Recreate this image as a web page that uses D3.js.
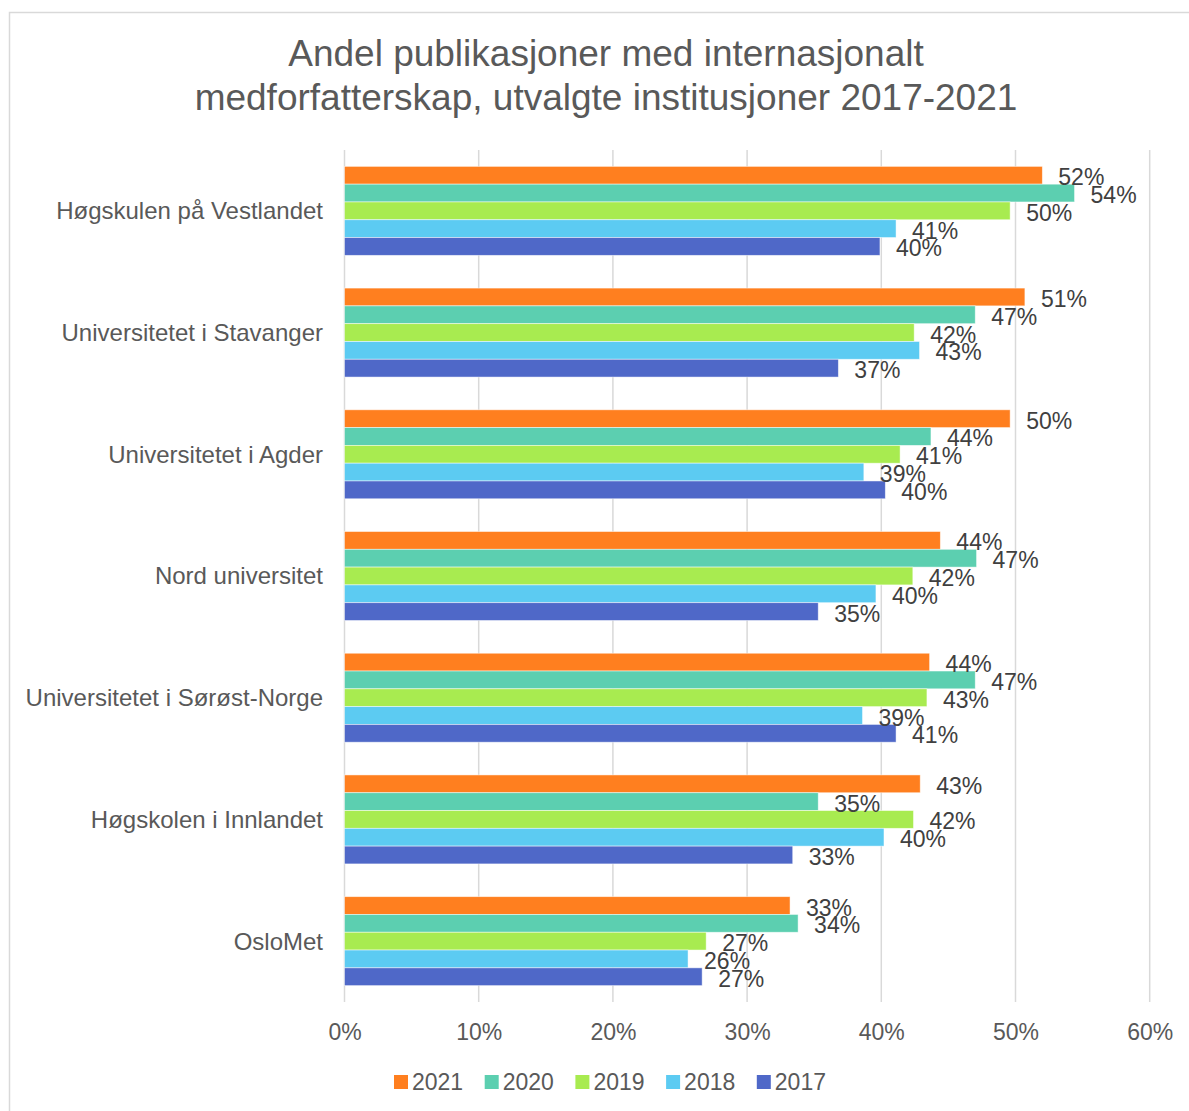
<!DOCTYPE html>
<html>
<head>
<meta charset="utf-8">
<script src="https://cdn.jsdelivr.net/npm/d3@7"></script>
<style>
  html, body { margin: 0; padding: 0; background: #fff; }
  svg { display: block; font-family: "Liberation Sans", Arial, sans-serif; }
</style>
</head>
<body>
<svg id="chart" width="1189" height="1111"></svg>
<script>
const titleLines = ["Andel publikasjoner med internasjonalt", "medforfatterskap, utvalgte institusjoner 2017-2021"];
const categories = ["Høgskulen på Vestlandet", "Universitetet i Stavanger", "Universitetet i Agder", "Nord universitet", "Universitetet i Sørøst-Norge", "Høgskolen i Innlandet", "OsloMet"];
const years = ["2021", "2020", "2019", "2018", "2017"];
const v2021 = [52.0, 50.7, 49.6, 44.4, 43.6, 42.9, 33.2];
const v2020 = [54.4, 47.0, 43.7, 47.1, 47.0, 35.3, 33.8];
const v2019 = [49.6, 42.45, 41.4, 42.35, 43.4, 42.4, 26.95];
const v2018 = [41.1, 42.85, 38.7, 39.6, 38.6, 40.2, 25.6];
const v2017 = [39.9, 36.8, 40.3, 35.3, 41.1, 33.4, 26.65];
const xTicks = [0, 10, 20, 30, 40, 50, 60];
const colors = ["#FF7F1F", "#5CCFB0", "#A8EB50", "#5CCBF2", "#4F68C8"];

const seriesValues = [v2021, v2020, v2019, v2018, v2017];

const svg = d3.select("#chart");

// outer frame
svg.append("rect").attr("x", 9.5).attr("y", 12.5).attr("width", 1185).attr("height", 1110)
  .attr("fill", "none").attr("stroke", "#d9d9d9").attr("stroke-width", 1.5);

// title
svg.append("g").selectAll("text").data(titleLines).join("text")
  .attr("x", 606).attr("y", (d, i) => 66 + i * 44)
  .attr("text-anchor", "middle").attr("font-size", 37).attr("fill", "#595959")
  .text(d => d);

const x = d3.scaleLinear().domain([0, 60]).range([344.5, 1149.7]);
const y0 = d3.scaleBand().domain(categories).range([150, 1002]).padding(0);
const y1 = d3.scaleBand().domain(years).range([0, y0.bandwidth()]).paddingInner(0).paddingOuter(0.92);
const color = d3.scaleOrdinal().domain(years).range(colors);

// gridlines
svg.append("g").selectAll("line").data(xTicks).join("line")
  .attr("x1", d => x(d)).attr("x2", d => x(d))
  .attr("y1", 150).attr("y2", 1002)
  .attr("stroke", "#d9d9d9").attr("stroke-width", 1.5);

// x axis labels
const xAxis = d3.axisBottom(x).tickValues(xTicks).tickFormat(d => d + "%").tickSize(0).tickPadding(0);
const gx = svg.append("g").attr("transform", "translate(0,1002)").call(xAxis);
gx.select(".domain").remove();
gx.selectAll("text").attr("font-size", 23).attr("fill", "#595959")
  .attr("font-family", "Liberation Sans, Arial, sans-serif")
  .attr("dy", null).attr("y", 38);

// y axis labels
const yAxis = d3.axisLeft(y0).tickSize(0).tickPadding(0);
const gy = svg.append("g").attr("transform", "translate(323,0)").call(yAxis);
gy.select(".domain").remove();
gy.selectAll("text").attr("font-size", 24).attr("fill", "#595959")
  .attr("font-family", "Liberation Sans, Arial, sans-serif")
  .attr("dy", "0.35em").attr("x", 0);

// bars
const rows = [];
categories.forEach((c, ci) => {
  years.forEach((yr, yi) => {
    rows.push({ cat: c, year: yr, value: seriesValues[yi][ci] });
  });
});

const gBars = svg.append("g");
gBars.selectAll("rect").data(rows).join("rect")
  .attr("x", x(0))
  .attr("y", d => y0(d.cat) + y1(d.year))
  .attr("width", d => x(d.value) - x(0))
  .attr("height", y1.bandwidth())
  .attr("fill", d => color(d.year))
  .attr("stroke", "#ffffff").attr("stroke-opacity", 0.6).attr("stroke-width", 0.8);

// data labels
svg.append("g").selectAll("text").data(rows).join("text")
  .attr("x", d => x(d.value) + 16)
  .attr("y", d => y0(d.cat) + y1(d.year) + y1.bandwidth() / 2 + 10)
  .attr("font-size", 23).attr("fill", "#404040")
  .text(d => Math.round(d.value) + "%");

// legend
const legend = svg.append("g");
const lg = legend.selectAll("g").data(years).join("g")
  .attr("transform", (d, i) => `translate(${394 + i * 90.7},0)`);
lg.append("rect").attr("x", 0).attr("y", 1075).attr("width", 14).attr("height", 14)
  .attr("fill", d => color(d));
lg.append("text").attr("x", 18).attr("y", 1090).attr("font-size", 23).attr("fill", "#595959")
  .text(d => d);
</script>
</body>
</html>
